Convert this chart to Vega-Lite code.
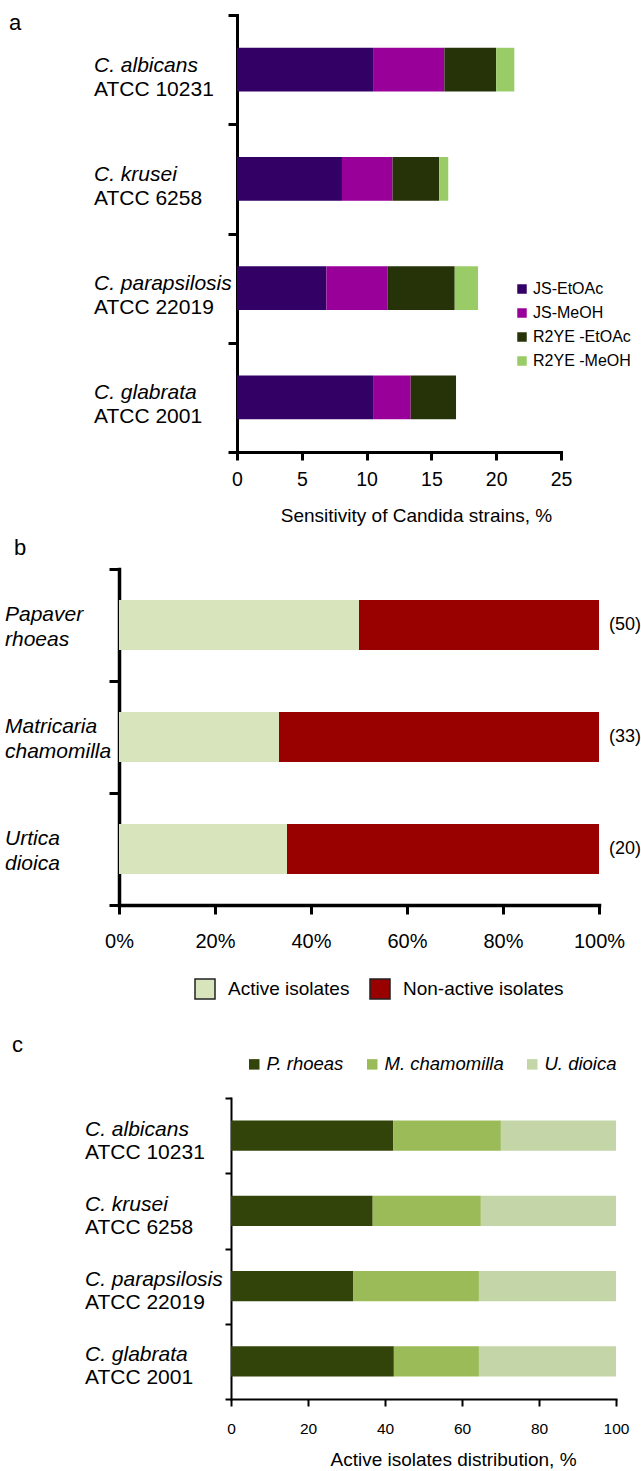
{
  "$schema": "https://vega.github.io/schema/vega-lite/v6.json",
  "padding": {"top": 11, "left": 5, "right": 2, "bottom": 0},
  "spacing": 10,
  "config": {
    "view": {"stroke": null},
    "font": "Liberation Sans",
    "text": {"font": "Liberation Sans", "color": "#000"},
    "axis": {"labelFont": "Liberation Sans", "titleFont": "Liberation Sans", "labelColor": "#000", "titleColor": "#000", "domainColor": "#000", "tickColor": "#000", "grid": false, "titleFontWeight": "normal", "domainCap": "square", "labelFlush": false},
    "legend": {"labelFont": "Liberation Sans", "labelColor": "#000", "labelLimit": 300},
    "title": {"font": "Liberation Sans", "fontWeight": "normal", "fontSize": 22, "color": "#000", "anchor": "start", "frame": "group"}
  },
  "datasets": {
    "sens": [
      {"strain": "C. albicans ATCC 10231", "extract": "JS-EtOAc", "value": 10.5},
      {"strain": "C. albicans ATCC 10231", "extract": "JS-MeOH", "value": 5.5},
      {"strain": "C. albicans ATCC 10231", "extract": "R2YE -EtOAc", "value": 4.0},
      {"strain": "C. albicans ATCC 10231", "extract": "R2YE -MeOH", "value": 1.4},
      {"strain": "C. krusei ATCC 6258", "extract": "JS-EtOAc", "value": 8.1},
      {"strain": "C. krusei ATCC 6258", "extract": "JS-MeOH", "value": 3.9},
      {"strain": "C. krusei ATCC 6258", "extract": "R2YE -EtOAc", "value": 3.6},
      {"strain": "C. krusei ATCC 6258", "extract": "R2YE -MeOH", "value": 0.7},
      {"strain": "C. parapsilosis ATCC 22019", "extract": "JS-EtOAc", "value": 6.9},
      {"strain": "C. parapsilosis ATCC 22019", "extract": "JS-MeOH", "value": 4.7},
      {"strain": "C. parapsilosis ATCC 22019", "extract": "R2YE -EtOAc", "value": 5.2},
      {"strain": "C. parapsilosis ATCC 22019", "extract": "R2YE -MeOH", "value": 1.8},
      {"strain": "C. glabrata ATCC 2001", "extract": "JS-EtOAc", "value": 10.5},
      {"strain": "C. glabrata ATCC 2001", "extract": "JS-MeOH", "value": 2.9},
      {"strain": "C. glabrata ATCC 2001", "extract": "R2YE -EtOAc", "value": 3.5},
      {"strain": "C. glabrata ATCC 2001", "extract": "R2YE -MeOH", "value": 0}
    ],
    "strains": [
      {"strain": "C. albicans ATCC 10231", "species": "C. albicans", "atcc": "ATCC 10231"},
      {"strain": "C. krusei ATCC 6258", "species": "C. krusei", "atcc": "ATCC 6258"},
      {"strain": "C. parapsilosis ATCC 22019", "species": "C. parapsilosis", "atcc": "ATCC 22019"},
      {"strain": "C. glabrata ATCC 2001", "species": "C. glabrata", "atcc": "ATCC 2001"}
    ],
    "isolates": [
      {"plant": "Papaver rhoeas", "status": "Active isolates", "count": 25},
      {"plant": "Papaver rhoeas", "status": "Non-active isolates", "count": 25},
      {"plant": "Matricaria chamomilla", "status": "Active isolates", "count": 11},
      {"plant": "Matricaria chamomilla", "status": "Non-active isolates", "count": 22},
      {"plant": "Urtica dioica", "status": "Active isolates", "count": 7},
      {"plant": "Urtica dioica", "status": "Non-active isolates", "count": 13}
    ],
    "plants": [
      {"plant": "Papaver rhoeas", "genus": "Papaver", "epithet": "rhoeas", "nLabel": "(50)"},
      {"plant": "Matricaria chamomilla", "genus": "Matricaria", "epithet": "chamomilla", "nLabel": "(33)"},
      {"plant": "Urtica dioica", "genus": "Urtica", "epithet": "dioica", "nLabel": "(20)"}
    ],
    "dist": [
      {"strain": "C. albicans ATCC 10231", "plant": "P. rhoeas", "rank": 1, "pct": 42.1},
      {"strain": "C. albicans ATCC 10231", "plant": "M. chamomilla", "rank": 2, "pct": 28.0},
      {"strain": "C. albicans ATCC 10231", "plant": "U. dioica", "rank": 3, "pct": 29.9},
      {"strain": "C. krusei ATCC 6258", "plant": "P. rhoeas", "rank": 1, "pct": 36.8},
      {"strain": "C. krusei ATCC 6258", "plant": "M. chamomilla", "rank": 2, "pct": 28.1},
      {"strain": "C. krusei ATCC 6258", "plant": "U. dioica", "rank": 3, "pct": 35.1},
      {"strain": "C. parapsilosis ATCC 22019", "plant": "P. rhoeas", "rank": 1, "pct": 31.7},
      {"strain": "C. parapsilosis ATCC 22019", "plant": "M. chamomilla", "rank": 2, "pct": 32.7},
      {"strain": "C. parapsilosis ATCC 22019", "plant": "U. dioica", "rank": 3, "pct": 35.6},
      {"strain": "C. glabrata ATCC 2001", "plant": "P. rhoeas", "rank": 1, "pct": 42.3},
      {"strain": "C. glabrata ATCC 2001", "plant": "M. chamomilla", "rank": 2, "pct": 22.1},
      {"strain": "C. glabrata ATCC 2001", "plant": "U. dioica", "rank": 3, "pct": 35.6}
    ]
  },
  "resolve": {"scale": {"color": "independent", "x": "independent", "y": "independent"}},
  "vconcat": [
    {
      "width": 442,
      "height": 437,
      "title": {"text": "a", "dx": -110, "dy": 25},
      "resolve": {"axis": {"x": "independent", "y": "independent"}},
      "layer": [
        {
          "data": {"name": "sens"},
          "mark": {"type": "bar", "height": {"band": 0.4}},
          "encoding": {
            "y": {"field": "strain", "type": "nominal", "sort": null,
              "scale": {"domain": ["C. albicans ATCC 10231", "C. krusei ATCC 6258", "C. parapsilosis ATCC 22019", "C. glabrata ATCC 2001"], "paddingInner": 0, "paddingOuter": 0},
              "axis": {"labels": false, "title": null, "tickBand": "extent", "offset": -118, "domainWidth": 3, "tickWidth": 3, "tickSize": 9}},
            "x": {"field": "value", "type": "quantitative", "stack": "zero",
              "scale": {"domain": [0, 25], "range": [118, 442], "nice": false},
              "axis": {"values": [0, 5, 10, 15, 20, 25], "title": "Sensitivity of Candida strains, %", "titleFontSize": 19, "titleX": 297, "labelFontSize": 19.5, "labelPadding": 10, "titlePadding": 18, "domainWidth": 3, "tickWidth": 3, "tickSize": 8}},
            "color": {"field": "extract", "type": "nominal",
              "scale": {"domain": ["JS-EtOAc", "JS-MeOH", "R2YE -EtOAc", "R2YE -MeOH"], "range": ["#330066", "#990099", "#263308", "#99cc66"]},
              "legend": {"title": null, "orient": "none", "legendX": 395, "legendY": 266, "padding": 0, "symbolType": "square", "symbolSize": 90, "symbolStrokeWidth": 0, "labelFontSize": 16, "rowPadding": 8, "labelOffset": 3}},
            "order": {"field": "extract", "sort": "ascending"}
          }
        },
        {
          "data": {"name": "strains"},
          "mark": {"type": "text", "align": "left", "baseline": "middle", "dx": -143, "dy": -4, "fontSize": 21, "fontStyle": "italic"},
          "encoding": {
            "y": {"field": "strain", "type": "nominal", "axis": null},
            "x": {"datum": 0, "type": "quantitative", "axis": null},
            "text": {"field": "species"}
          }
        },
        {
          "data": {"name": "strains"},
          "mark": {"type": "text", "align": "left", "baseline": "middle", "dx": -143, "dy": 20, "fontSize": 21},
          "encoding": {
            "y": {"field": "strain", "type": "nominal", "axis": null},
            "x": {"datum": 0, "type": "quantitative", "axis": null},
            "text": {"field": "atcc"}
          }
        }
      ]
    },
    {
      "width": 480,
      "height": 336,
      "title": {"text": "b", "dx": -105, "offset": 8},
      "resolve": {"axis": {"x": "independent", "y": "independent"}},
      "layer": [
        {
          "data": {"name": "isolates"},
          "mark": {"type": "bar", "height": {"band": 0.446}},
          "encoding": {
            "y": {"field": "plant", "type": "nominal", "sort": null,
              "scale": {"domain": ["Papaver rhoeas", "Matricaria chamomilla", "Urtica dioica"], "paddingInner": 0, "paddingOuter": 0},
              "axis": {"labels": false, "title": null, "tickBand": "extent", "domainWidth": 3.5, "tickWidth": 3, "tickSize": 10}},
            "x": {"field": "count", "type": "quantitative", "stack": "normalize",
              "scale": {"domain": [0, 1], "nice": false},
              "axis": {"values": [0, 0.2, 0.4, 0.6, 0.8, 1], "format": ".0%", "title": null, "labelFontSize": 20, "labelPadding": 17, "domainWidth": 3.5, "tickWidth": 3, "tickSize": 9}},
            "color": {"field": "status", "type": "nominal",
              "scale": {"domain": ["Active isolates", "Non-active isolates"], "range": ["#d8e4bc", "#990000"]},
              "legend": {"title": null, "orient": "none", "direction": "horizontal", "legendX": 53, "legendY": 387, "padding": 22, "symbolType": "square", "symbolSize": 400, "symbolStrokeColor": "#222", "symbolStrokeWidth": 1.5, "labelFontSize": 19, "labelOffset": 12, "columnPadding": 17}},
            "order": {"field": "status", "sort": "ascending"}
          }
        },
        {
          "data": {"name": "plants"},
          "mark": {"type": "text", "align": "left", "baseline": "middle", "dx": -114, "dy": -10, "fontSize": 21, "fontStyle": "italic"},
          "encoding": {
            "y": {"field": "plant", "type": "nominal", "axis": null},
            "x": {"datum": 0, "type": "quantitative", "axis": null},
            "text": {"field": "genus"}
          }
        },
        {
          "data": {"name": "plants"},
          "mark": {"type": "text", "align": "left", "baseline": "middle", "dx": -114, "dy": 15, "fontSize": 21, "fontStyle": "italic"},
          "encoding": {
            "y": {"field": "plant", "type": "nominal", "axis": null},
            "x": {"datum": 0, "type": "quantitative", "axis": null},
            "text": {"field": "epithet"}
          }
        },
        {
          "data": {"name": "plants"},
          "mark": {"type": "text", "align": "left", "baseline": "middle", "dx": 10, "fontSize": 18},
          "encoding": {
            "y": {"field": "plant", "type": "nominal", "axis": null},
            "x": {"datum": 1, "type": "quantitative", "axis": null},
            "text": {"field": "nLabel"}
          }
        }
      ]
    },
    {
      "width": 497,
      "height": 301,
      "title": {"text": "c", "dx": -107, "offset": -2},
      "resolve": {"axis": {"x": "independent", "y": "independent"}},
      "layer": [
        {
          "data": {"name": "dist"},
          "mark": {"type": "bar", "height": {"band": 0.4}},
          "encoding": {
            "y": {"field": "strain", "type": "nominal", "sort": null,
              "scale": {"domain": ["C. albicans ATCC 10231", "C. krusei ATCC 6258", "C. parapsilosis ATCC 22019", "C. glabrata ATCC 2001"], "paddingInner": 0, "paddingOuter": 0},
              "axis": {"labels": false, "title": null, "tickBand": "extent", "offset": -112, "domainWidth": 2, "tickWidth": 2, "tickSize": 6}},
            "x": {"field": "pct", "type": "quantitative", "stack": "zero",
              "scale": {"domain": [0, 100], "range": [112, 497], "nice": false},
              "axis": {"values": [0, 20, 40, 60, 80, 100], "title": "Active isolates distribution, %", "titleFontSize": 19, "titleX": 334, "labelFontSize": 15.5, "labelPadding": 15, "titlePadding": 14, "domainWidth": 2, "tickWidth": 2, "tickSize": 7}},
            "color": {"field": "plant", "type": "nominal",
              "scale": {"domain": ["P. rhoeas", "M. chamomilla", "U. dioica"], "range": ["#324409", "#9bbb59", "#c4d6a8"]},
              "legend": {"title": null, "orient": "none", "direction": "horizontal", "legendX": 126, "legendY": -43, "padding": 0, "symbolType": "square", "symbolSize": 110, "symbolStrokeWidth": 0, "labelFontSize": 18.5, "labelFontStyle": "italic", "labelOffset": 3, "columnPadding": 19}},
            "order": {"field": "rank", "sort": "ascending"}
          }
        },
        {
          "data": {"name": "strains"},
          "mark": {"type": "text", "align": "left", "baseline": "middle", "dx": -146, "dy": -6, "fontSize": 21, "fontStyle": "italic"},
          "encoding": {
            "y": {"field": "strain", "type": "nominal", "axis": null},
            "x": {"datum": 0, "type": "quantitative", "axis": null},
            "text": {"field": "species"}
          }
        },
        {
          "data": {"name": "strains"},
          "mark": {"type": "text", "align": "left", "baseline": "middle", "dx": -146, "dy": 17, "fontSize": 21},
          "encoding": {
            "y": {"field": "strain", "type": "nominal", "axis": null},
            "x": {"datum": 0, "type": "quantitative", "axis": null},
            "text": {"field": "atcc"}
          }
        }
      ]
    }
  ]
}
